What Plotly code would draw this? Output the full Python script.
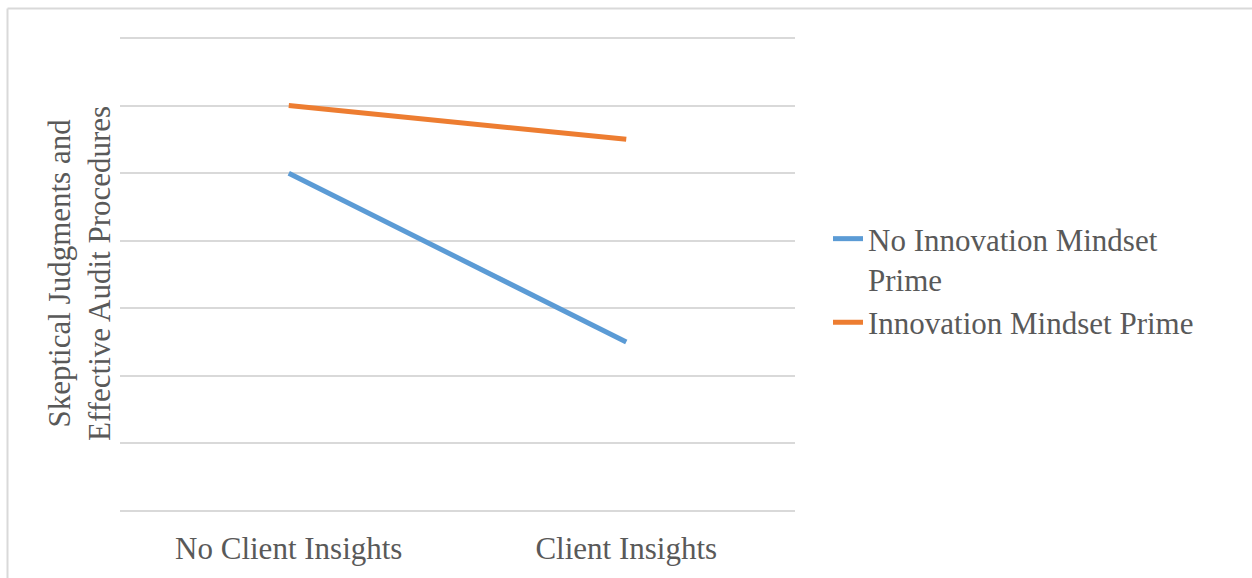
import plotly.graph_objects as go

categories = ["No Client Insights", "Client Insights"]
no_prime = [5.0, 2.5]
prime = [6.0, 5.5]
series_names = ["No Innovation Mindset<br>Prime", "Innovation Mindset Prime"]
y_title = "Skeptical Judgments and<br>Effective Audit Procedures"

W, H = 1252, 578
L, R = 120, 457
pw = W - L - R
ppu = 473 / 7
pad = 7
T, B = 38 - pad, 67 - pad
ph = H - T - B

def px_x(x):
    return (x - L) / pw

def px_y(y):
    return (H - B - y) / ph

font = "Liberation Serif, Times New Roman, serif"
txt = "#595959"

fig = go.Figure()
fig.add_trace(go.Scatter(x=categories, y=no_prime, mode="lines", name=series_names[0],
                         line=dict(color="#5B9BD5", width=5)))
fig.add_trace(go.Scatter(x=categories, y=prime, mode="lines", name=series_names[1],
                         line=dict(color="#ED7D31", width=5)))

fig.update_layout(
    width=W, height=H,
    margin=dict(l=L, r=R, t=T, b=B, autoexpand=False),
    paper_bgcolor="white", plot_bgcolor="white",
    font=dict(family=font, size=31, color=txt),
    showlegend=True,
    legend=dict(x=px_x(828), y=px_y(212), xanchor="left", yanchor="top",
                valign="top", font=dict(size=31, color=txt, family=font),
                bgcolor="rgba(0,0,0,0)", itemwidth=30),
    xaxis=dict(type="category", range=[-0.5, 1.5], showgrid=False, zeroline=False,
               showline=False, ticks="", tickfont=dict(size=31, color=txt, family=font),
               ticklabelstandoff=9, automargin=False),
    yaxis=dict(range=[-pad / ppu, 7 + pad / ppu], dtick=1, tick0=0, showticklabels=False,
               showgrid=True, gridcolor="#D9D9D9", gridwidth=1.5,
               zeroline=False, showline=False, automargin=False),
    annotations=[dict(text=y_title, x=px_x(79), y=px_y(274), xref="paper", yref="paper",
                      textangle=-90, showarrow=False, xanchor="center", yanchor="middle",
                      font=dict(size=31, color=txt, family=font))],
    shapes=[
        dict(type="line", xref="paper", yref="paper", x0=px_x(7.5), x1=px_x(1252),
             y0=px_y(8.5), y1=px_y(8.5), line=dict(color="#D9D9D9", width=2)),
        dict(type="line", xref="paper", yref="paper", x0=px_x(7.5), x1=px_x(7.5),
             y0=px_y(8.5), y1=px_y(578), line=dict(color="#D9D9D9", width=2)),
    ],
)

fig.write_html("out.html")
